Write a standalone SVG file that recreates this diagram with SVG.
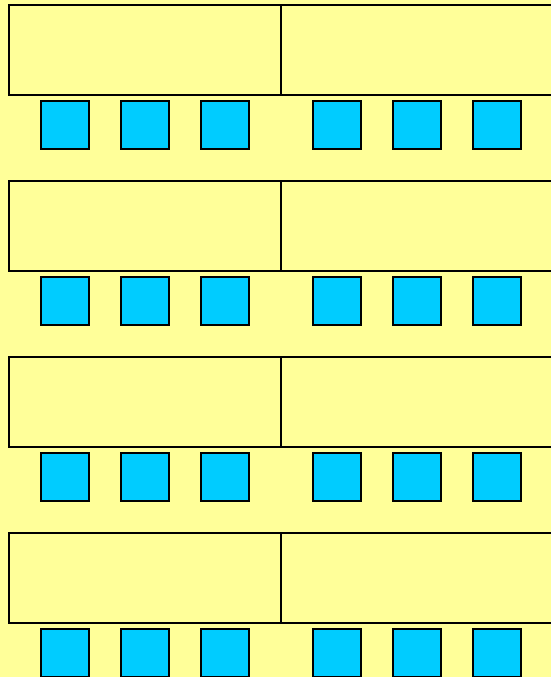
<svg xmlns="http://www.w3.org/2000/svg" width="551" height="677" viewBox="0 0 551 677">
<style>
.box{fill:#FFFF99;stroke:#000;stroke-width:2}
.sq{fill:#00CCFF;stroke:#000;stroke-width:2}
</style>
<defs>
<g id="row">
<rect class="box" x="9" y="5" width="272" height="90"/>
<rect class="box" x="281" y="5" width="290" height="90"/>
<rect class="sq" x="41" y="101" width="48" height="48"/>
<rect class="sq" x="121" y="101" width="48" height="48"/>
<rect class="sq" x="201" y="101" width="48" height="48"/>
<rect class="sq" x="313" y="101" width="48" height="48"/>
<rect class="sq" x="393" y="101" width="48" height="48"/>
<rect class="sq" x="473" y="101" width="48" height="48"/>
</g>
</defs>
<rect width="551" height="677" fill="#FFFF99"/>
<g id="row1"><use href="#row"/></g>
<g id="row2"><use href="#row" y="176"/></g>
<g id="row3"><use href="#row" y="352"/></g>
<g id="row4"><use href="#row" y="528"/></g>
<g id="connectors"/>
</svg>
